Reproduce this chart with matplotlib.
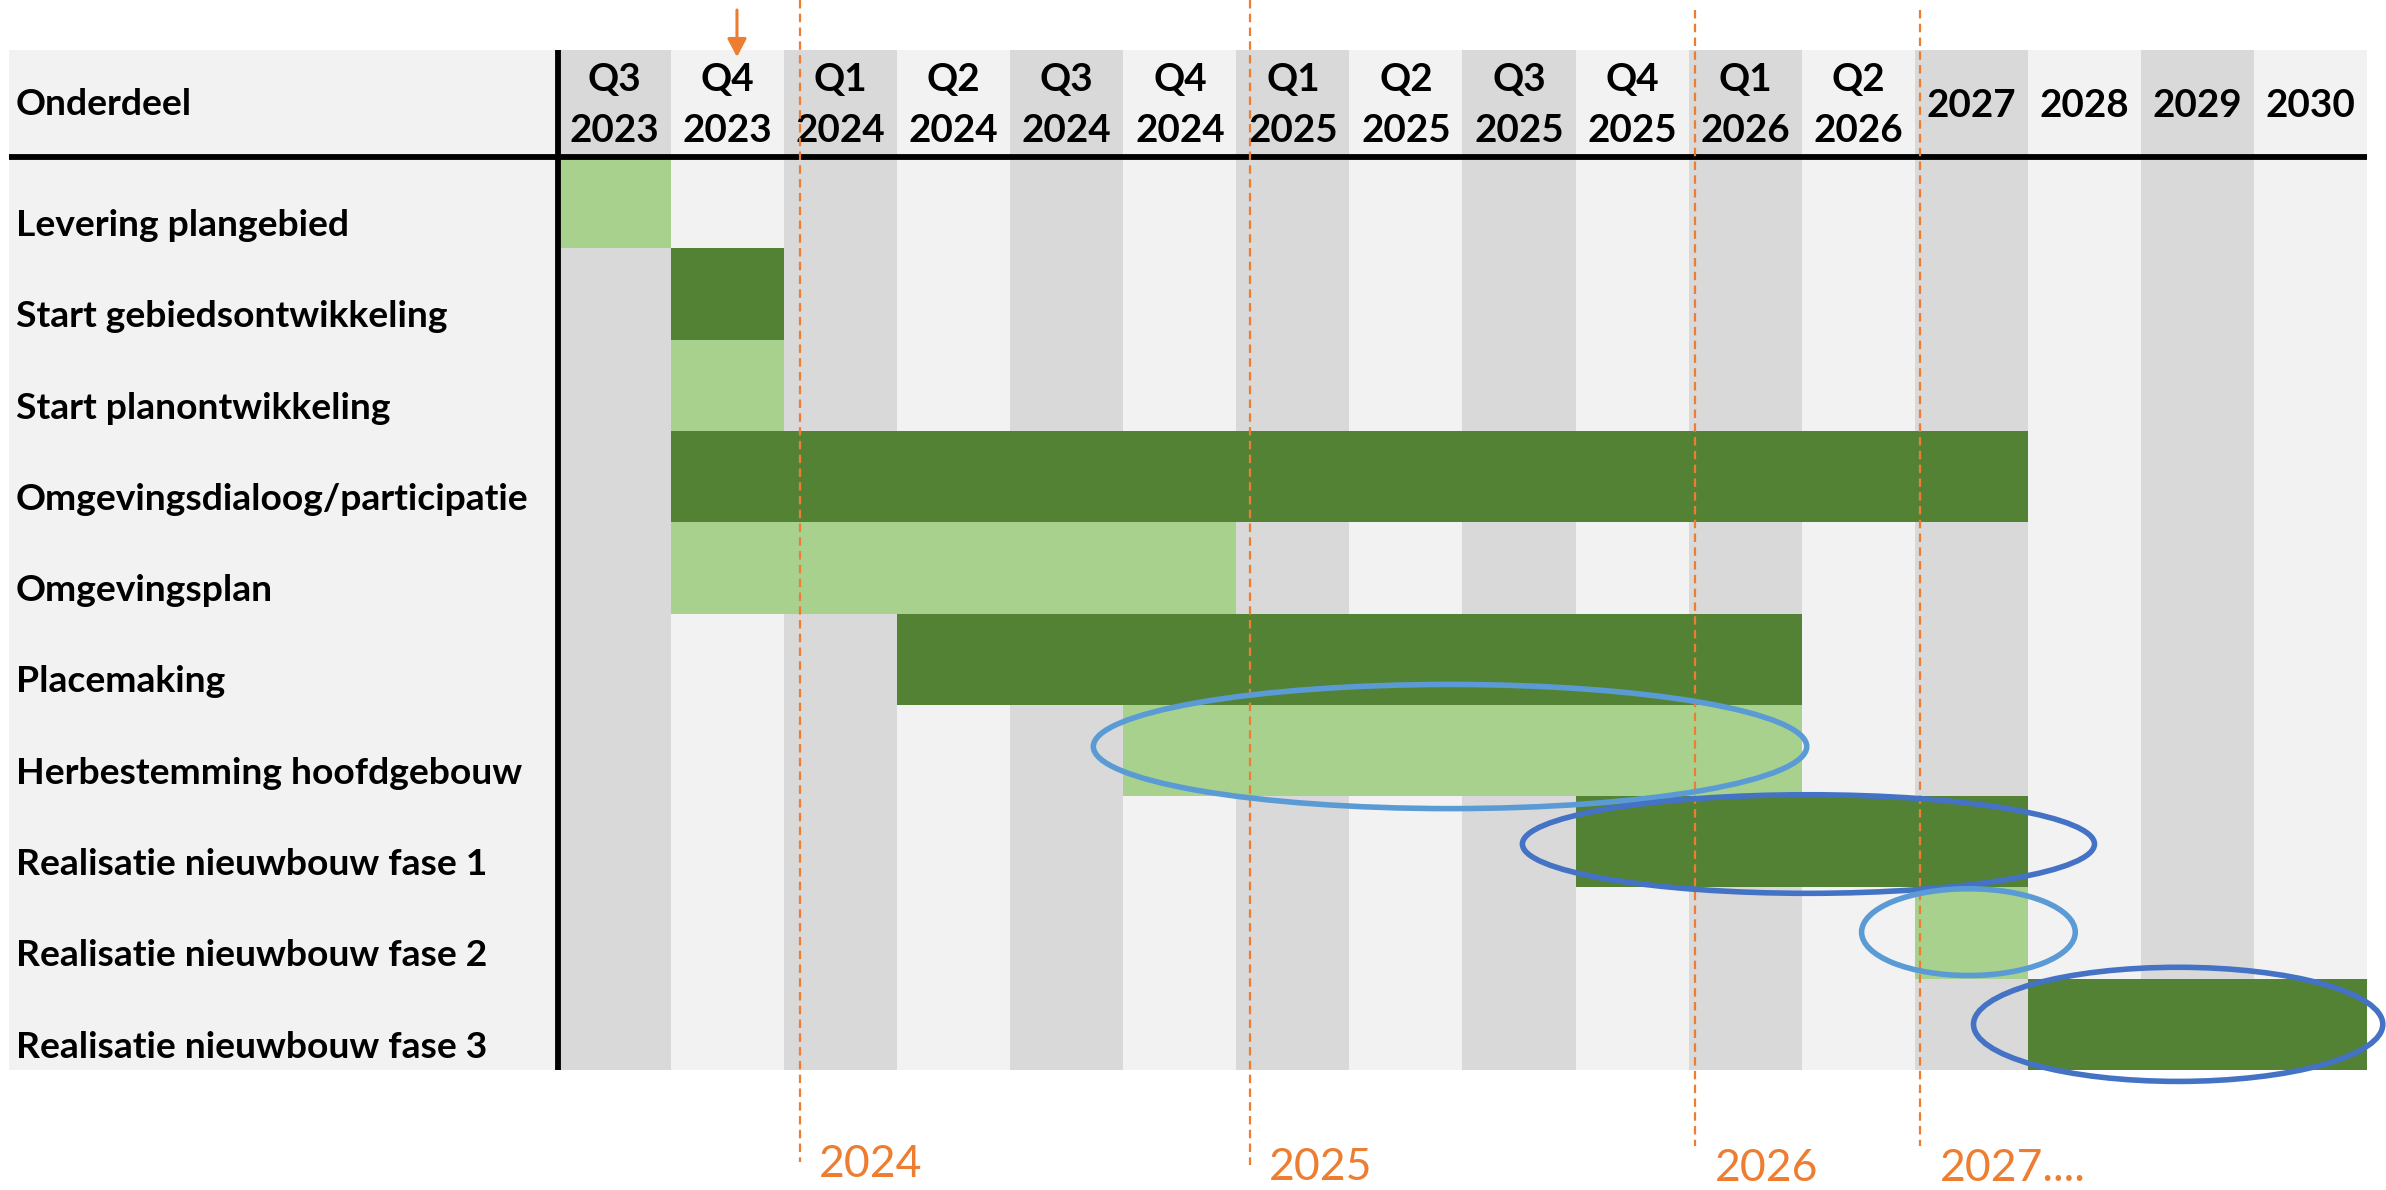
import matplotlib
matplotlib.use("Agg")
import matplotlib.pyplot as plt
from matplotlib.patches import Rectangle, Ellipse

# ---------------- data ----------------
quarters = ["Q3", "Q4", "Q1", "Q2", "Q3", "Q4", "Q1", "Q2", "Q3", "Q4", "Q1", "Q2", "", "", "", ""]
years = ["2023", "2023", "2024", "2024", "2024", "2024", "2025", "2025", "2025", "2025",
         "2026", "2026", "2027", "2028", "2029", "2030"]

tasks = ["Levering plangebied", "Start gebiedsontwikkeling", "Start planontwikkeling",
         "Omgevingsdialoog/participatie", "Omgevingsplan", "Placemaking",
         "Herbestemming hoofdgebouw", "Realisatie nieuwbouw fase 1",
         "Realisatie nieuwbouw fase 2", "Realisatie nieuwbouw fase 3"]
task_start = [0, 1, 1, 1, 1, 3, 5, 9, 12, 13]
task_end = [1, 2, 2, 13, 6, 11, 11, 13, 13, 16]
task_kind = ["light", "dark", "light", "dark", "light", "dark", "light", "dark", "light", "dark"]

# highlight ellipses: centre (col, row), width (cols), height (rows), colour kind
ell_cx = [7.89, 11.06, 12.475, 14.33]
ell_cy = [6.457, 7.525, 8.49, 9.50]
ell_w = [6.31, 5.06, 1.89, 3.62]
ell_h = [1.36, 1.08, 0.95, 1.25]
ell_kind = ["light", "dark", "light", "dark"]

# year markers (dashed lines) in column units
year_marks = [2.14, 6.12, 10.06, 12.05]
year_labels = ["2024", "2025", "2026", "2027...."]
year_line_top = [-1.72, -1.72, -1.61, -1.61]
year_line_bottom = [11.01, 11.04, 10.83, 10.83]
year_label_base = [11.17, 11.20, 11.22, 11.22]

arrow_col = 1.583

# ---------------- style ----------------
C_DARKBG = "#D9D9D9"
C_LIGHTBG = "#F2F2F2"
C_LIGHT = "#A9D18E"
C_DARK = "#548235"
C_ORANGE = "#ED7D31"
C_BLUE_L = "#5B9BD5"
C_BLUE_D = "#4472C4"
FONT = "Lato"
FS = 26.8
FS_HEAD = 27.8

W, H = 2386, 1190
fig = plt.figure(figsize=(W / 100, H / 100), dpi=100)
ax = fig.add_axes([0, 0, 1, 1])
ax.set_axis_off()
x0px, y0px, colpx, rowpx = 558, 157, 113.06, 91.3
ax.set_xlim(-x0px / colpx, (W - x0px) / colpx)
ax.set_ylim((H - y0px) / rowpx, -y0px / rowpx)

ncol = len(years)
nrow = len(tasks)
head_top = (50 - y0px) / rowpx
lab_left = (9 - x0px) / colpx

# label column background
ax.add_patch(Rectangle((lab_left, head_top), -lab_left, nrow - head_top,
                       facecolor=C_LIGHTBG, edgecolor="none", zorder=0))
# column backgrounds incl. header
for i in range(ncol):
    ax.add_patch(Rectangle((i, head_top), 1, nrow - head_top,
                           facecolor=C_DARKBG if i % 2 == 0 else C_LIGHTBG,
                           edgecolor="none", zorder=0))

# bars
for r, (s, e, k) in enumerate(zip(task_start, task_end, task_kind)):
    ax.barh(r + 0.5, e - s, left=s, height=1.0,
            color=C_LIGHT if k == "light" else C_DARK, zorder=2, linewidth=0)

# grid lines
ax.plot([lab_left, ncol], [0, 0], color="black", lw=4.2, zorder=3, solid_capstyle="butt")
ax.plot([0, 0], [head_top, nrow], color="black", lw=4.2, zorder=3, solid_capstyle="butt")

# header texts
ax.text(lab_left + 0.06, -0.46, "Onderdeel", fontsize=FS, fontweight="bold",
        family=FONT, ha="left", va="baseline", zorder=4)
for i, (q, y) in enumerate(zip(quarters, years)):
    if q:
        ax.text(i + 0.5, -0.723, q, fontsize=FS_HEAD, fontweight="bold", family=FONT,
                ha="center", va="baseline", zorder=4)
        ax.text(i + 0.5, -0.164, y, fontsize=FS_HEAD, fontweight="bold", family=FONT,
                ha="center", va="baseline", zorder=4)
    else:
        ax.text(i + 0.5, -0.438, y, fontsize=FS_HEAD, fontweight="bold", family=FONT,
                ha="center", va="baseline", zorder=4)

# task labels
for r, t in enumerate(tasks):
    ax.text(lab_left + 0.06, r + 1 - 0.135, t, fontsize=FS, fontweight="bold",
            family=FONT, ha="left", va="baseline", zorder=4)

# dashed year lines and labels
for xm, lab, yt, yb, yl in zip(year_marks, year_labels, year_line_top,
                               year_line_bottom, year_label_base):
    ax.plot([xm, xm], [yt, yb], color=C_ORANGE, lw=1.6, dashes=(3.8, 2.4), zorder=5)
    ax.text(xm + 0.17, yl, lab, color=C_ORANGE, fontsize=32, family=FONT,
            ha="left", va="baseline", zorder=5)

# arrow
ax.annotate("", xy=(arrow_col, -1.095), xytext=(arrow_col, -1.61),
            arrowprops=dict(arrowstyle="-|>,head_length=1.1,head_width=0.58",
                            color=C_ORANGE, lw=2.2, shrinkA=0, shrinkB=0), zorder=6)

# ellipses
for cx, cy, w, h, k in zip(ell_cx, ell_cy, ell_w, ell_h, ell_kind):
    ax.add_patch(Ellipse((cx, cy), w, h, facecolor="none",
                         edgecolor=C_BLUE_L if k == "light" else C_BLUE_D,
                         lw=4.0, zorder=7, clip_on=False))

fig.savefig("out.png", dpi=100)
